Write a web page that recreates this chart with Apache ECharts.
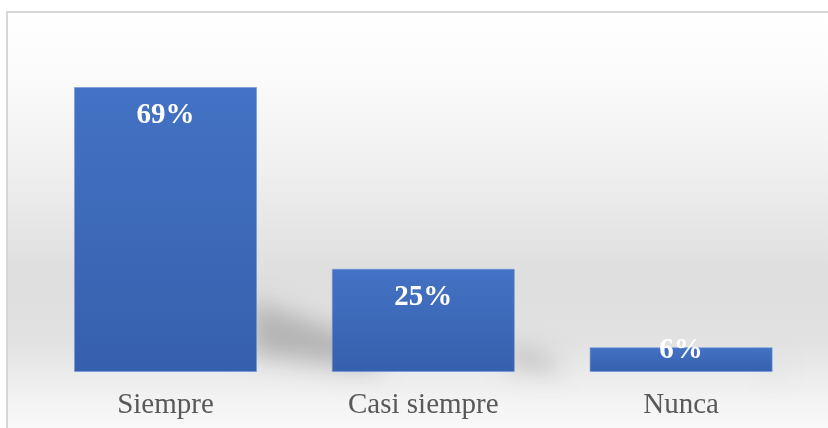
<!DOCTYPE html>
<html>
<head>
<meta charset="utf-8">
<script src="https://cdn.jsdelivr.net/npm/echarts@6/dist/echarts.min.js"></script>
<style>html,body{margin:0;padding:0;background:#fff;}#c{width:828px;height:428px;}</style>
</head>
<body>
<div id="c"></div>
<script>
var categories = ['Siempre', 'Casi siempre', 'Nunca'];
var values = [69, 25, 6];
var valueLabels = ['69%', '25%', '6%'];
var labelDistances = [14, 14, -11];

var chart = echarts.init(document.getElementById('c'), null, {renderer: 'canvas'});
var SHIFT = 3000;
var option = {
  animation: false,
  backgroundColor: '#ffffff',
  graphic: [{
    type: 'rect', z: -10, silent: true,
    shape: {x: 7, y: 12, width: 840, height: 440},
    style: {
      stroke: '#d6d6d6', lineWidth: 2,
      fill: new echarts.graphic.LinearGradient(0, 0, 0, 1, [
        {offset: 0, color: '#ffffff'},
        {offset: 0.12, color: '#fcfcfc'},
        {offset: 0.35, color: '#f0f0f0'},
        {offset: 0.6, color: '#dedede'},
        {offset: 0.75, color: '#e2e2e2'},
        {offset: 0.88, color: '#f3f3f3'},
        {offset: 1, color: '#fefefe'}
      ])
    }
  }],
  grid: {left: 36.6, right: 18, top: 41.6, bottom: 56},
  xAxis: {
    type: 'category', data: categories,
    axisLine: {show: false}, axisTick: {show: false},
    axisLabel: {margin: 19, fontFamily: 'Liberation Serif', fontSize: 29, color: '#595959'}
  },
  yAxis: {type: 'value', min: 0, max: 80, show: false, splitLine: {show: false}},
  series: [{
    type: 'custom', z: 1, silent: true,
    data: values.map(function (v, i) { return [i, v]; }),
    renderItem: function (params, api) {
      var top = api.coord([api.value(0), api.value(1)]);
      var base = api.coord([api.value(0), 0]);
      var bw = api.size([1, 0])[0] * 0.71;
      var xr = top[0] + bw / 2;
      var h = base[1] - top[1];
      var b = base[1];
      var pts = [
        [xr - 6, b - 0.25 * h],
        [xr + 0.42 * h, b - 0.1 * h],
        [xr + 0.42 * h, b + 0.0 * h],
        [xr - 6, b - 0.06 * h]
      ].map(function (p) { return [p[0] - SHIFT, p[1]]; });
      return {
        type: 'polygon',
        shape: {points: pts},
        style: {fill: '#000', shadowColor: 'rgba(0,0,0,0.2)', shadowBlur: 24, shadowOffsetX: SHIFT, shadowOffsetY: 0}
      };
    }
  }, {
    type: 'bar', z: 2,
    barWidth: '71%',
    data: values.map(function (v, i) {
      return {value: v, label: {distance: labelDistances[i]}};
    }),
    itemStyle: {
      color: new echarts.graphic.LinearGradient(0, 0, 0, 1, [
        {offset: 0, color: '#4472c4'},
        {offset: 1, color: '#3660ad'}
      ]),
      borderColor: 'rgba(110,150,220,0.6)', borderWidth: 1
    },
    label: {
      show: true, position: 'insideTop',
      formatter: function (p) { return valueLabels[p.dataIndex]; },
      fontFamily: 'Liberation Serif', fontWeight: 'bold', fontSize: 29, color: '#ffffff'
    }
  }]
};
chart.setOption(option);
</script>
</body>
</html>
